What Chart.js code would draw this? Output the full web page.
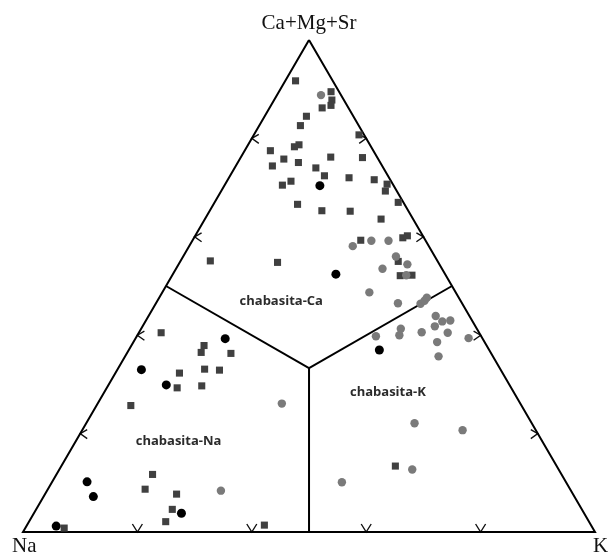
<!DOCTYPE html>
<html>
<head>
<meta charset="utf-8">
<script src="https://cdn.jsdelivr.net/npm/chart.js@4.4.1/dist/chart.umd.min.js"></script>
<style>
html,body{margin:0;padding:0;background:#ffffff;}
#wrap{width:608px;height:552px;position:relative;}
</style>
</head>
<body>
<div id="wrap"><canvas id="c" width="608" height="552"></canvas></div>
<script>
// Vertex labels: top, bottom-left, bottom-right
const vertexLabels = ['Ca+Mg+Sr', 'Na', 'K'];
// Field names and their label positions as [Ca, Na, K] %
const fieldNames = ['chabasita-Ca', 'chabasita-Na', 'chabasita-K'];
const fieldLabelPos = [[46.9, 31.4, 21.7], [18.4, 63.6, 18.0], [28.4, 22.0, 49.6]];
// Arrow ticks along each edge (%)
const tickFractions = [20, 40, 60, 80];
// Field boundaries [Ca, Na, K] %
const boundaryCenter = [33.33, 33.33, 33.34];
const boundaryEnds = [[50, 50, 0], [50, 0, 50], [0, 50, 50]];

// Series: [Ca+Mg+Sr, Na, K] %
const squares = [
  [91.7, 6.5, 1.8], [89.4, 1.4, 9.1], [87.8, 2.1, 10.1], [86.8, 2.8, 10.5], [86.2, 4.6, 9.2],
  [84.5, 8.2, 7.3], [82.6, 10.2, 7.2], [80.8, 0.9, 18.4], [78.7, 12.4, 8.9], [78.3, 13.4, 8.3],
  [77.5, 18.0, 4.5], [75.8, 16.5, 7.7], [76.2, 8.1, 15.7], [76.1, 2.6, 21.3], [74.4, 19.2, 6.4],
  [75.1, 14.3, 10.6], [74.0, 11.8, 14.2], [72.4, 11.1, 16.5], [72.0, 7.0, 21.0], [71.6, 2.8, 25.6],
  [70.7, 1.0, 28.3], [69.3, 2.0, 28.7], [71.3, 17.5, 11.2], [70.5, 19.4, 10.1], [66.6, 18.7, 14.7],
  [65.3, 15.1, 19.6], [65.2, 10.2, 24.6], [67.0, 0.9, 32.1], [63.6, 5.6, 30.8], [59.3, 11.3, 29.4],
  [59.8, 3.7, 36.5], [60.2, 2.7, 37.1], [55.1, 39.7, 5.2], [54.8, 28.1, 17.1], [55.0, 6.9, 38.1],
  [52.1, 8.0, 39.9], [52.2, 5.9, 41.9],
  [40.5, 55.6, 3.9], [37.9, 49.4, 12.7], [36.5, 50.6, 12.9], [36.3, 45.5, 18.2], [32.3, 56.5, 11.2],
  [33.1, 51.7, 15.2], [32.9, 49.2, 17.9], [29.3, 58.4, 12.3], [29.7, 53.9, 16.4], [25.7, 68.3, 6.0],
  [11.7, 71.5, 16.8], [8.7, 74.3, 17.0], [7.7, 69.3, 23.0], [4.6, 71.6, 23.8], [2.1, 74.0, 23.9],
  [0.8, 92.4, 6.8], [1.4, 57.1, 41.5],
  [13.4, 28.2, 58.4]
];
const grayCircles = [
  [88.8, 3.5, 7.7], [58.1, 13.3, 28.6], [59.2, 9.5, 31.3], [59.2, 6.5, 34.3], [56.0, 6.8, 37.2],
  [54.4, 5.6, 40.0], [53.5, 10.4, 36.1], [52.2, 6.9, 40.9], [48.7, 15.1, 36.2], [46.5, 11.2, 42.3],
  [46.4, 7.3, 46.3], [47.0, 6.3, 46.7], [47.6, 5.6, 46.8],
  [43.9, 5.9, 50.2], [42.8, 5.3, 51.9], [43.0, 3.8, 53.2], [41.8, 7.1, 51.1], [40.5, 5.5, 54.0],
  [40.6, 10.0, 49.4], [41.3, 13.3, 45.4], [40.0, 14.2, 45.8], [39.8, 18.4, 41.8], [38.6, 8.3, 53.1],
  [39.4, 2.4, 58.2], [35.7, 9.5, 54.8], [22.1, 20.5, 57.4], [20.7, 12.8, 66.5], [12.7, 25.6, 61.7],
  [10.1, 39.2, 50.7],
  [26.1, 41.7, 32.2], [8.4, 61.2, 30.4]
];
const blackCircles = [
  [70.4, 12.9, 16.7], [52.4, 19.1, 28.5], [39.3, 45.0, 15.7], [33.0, 62.8, 4.2], [29.9, 60.0, 10.1],
  [10.2, 83.7, 6.1], [7.2, 84.1, 8.7], [3.8, 70.4, 25.8], [1.2, 93.6, 5.2], [37.0, 19.2, 43.8]
];

const H = Math.sqrt(3) / 2;
function toXY(t) {
  const s = t[0] + t[1] + t[2];
  const ca = t[0] / s, k = t[2] / s;
  return { x: k + ca / 2, y: ca * H };
}

const outline = [[100, 0, 0], [0, 100, 0], [0, 0, 100], [100, 0, 0]].map(toXY);
const boundaryDatasets = boundaryEnds.map(e => ({
  type: 'scatter', showLine: true, data: [toXY(e), toXY(boundaryCenter)],
  borderColor: '#000', borderWidth: 2, pointRadius: 0, order: 10, clip: false
}));

const overlay = {
  id: 'overlay',
  beforeDatasetsDraw(chart) {
    const { ctx, scales: { x, y } } = chart;
    const P = t => { const p = toXY(t); return [x.getPixelForValue(p.x), y.getPixelForValue(p.y)]; };
    const chev = (px, py, arms) => {
      ctx.beginPath();
      ctx.moveTo(px + arms[0][0], py + arms[0][1]);
      ctx.lineTo(px, py);
      ctx.lineTo(px + arms[1][0], py + arms[1][1]);
      ctx.stroke();
    };
    ctx.save();
    ctx.strokeStyle = '#111';
    ctx.lineWidth = 1.4;
    tickFractions.forEach(f => {
      let [px, py] = P([f, 100 - f, 0]);
      chev(px, py, [[7, -4], [7, 5]]);
      [px, py] = P([f, 0, 100 - f]);
      chev(px, py, [[-7, -4], [-7, 5]]);
      [px, py] = P([0, 100 - f, f]);
      chev(px, py, [[-5, -8], [5, -8]]);
    });
    ctx.restore();
  },
  afterDraw(chart) {
    const { ctx, scales: { x, y } } = chart;
    const P = t => { const p = toXY(t); return [x.getPixelForValue(p.x), y.getPixelForValue(p.y)]; };
    ctx.save();
    ctx.fillStyle = '#111';
    ctx.font = '21px "Liberation Serif", "Times New Roman", serif';
    ctx.textBaseline = 'alphabetic';
    const top = P([100, 0, 0]), left = P([0, 100, 0]), right = P([0, 0, 100]);
    ctx.textAlign = 'center';
    ctx.fillText(vertexLabels[0], top[0], 29);
    ctx.textAlign = 'left';
    ctx.fillText(vertexLabels[1], left[0] - 11, left[1] + 20);
    ctx.fillText(vertexLabels[2], right[0] - 2, right[1] + 20);
    ctx.font = 'bold 13px "Open Sans", sans-serif';
    ctx.fillStyle = '#2b2b2b';
    ctx.textAlign = 'center';
    ctx.textBaseline = 'middle';
    fieldNames.forEach((n, i) => {
      const [px, py] = P(fieldLabelPos[i]);
      ctx.fillText(n, px, py);
    });
    ctx.restore();
  }
};

new Chart(document.getElementById('c'), {
  type: 'scatter',
  data: {
    datasets: [
      { label: 'black', data: blackCircles.map(toXY), pointStyle: 'circle', pointRadius: 4.5,
        backgroundColor: '#000', borderColor: '#000', borderWidth: 0, order: 0, clip: false },
      { label: 'gray', data: grayCircles.map(toXY), pointStyle: 'circle', pointRadius: 4.2,
        backgroundColor: '#7a7a7a', borderColor: '#7a7a7a', borderWidth: 0, order: 1, clip: false },
      { label: 'squares', data: squares.map(toXY), pointStyle: 'rect', pointRadius: 5,
        backgroundColor: '#404040', borderColor: '#404040', borderWidth: 0, order: 2, clip: false },
      { label: 'outline', type: 'scatter', showLine: true, data: outline, borderColor: '#000',
        borderWidth: 2, pointRadius: 0, order: 10, clip: false, borderJoinStyle: 'miter' },
      ...boundaryDatasets
    ]
  },
  options: {
    responsive: false,
    maintainAspectRatio: false,
    animation: false,
    layout: { padding: { left: 23, right: 13, top: 40, bottom: 20 } },
    scales: {
      x: { type: 'linear', min: 0, max: 1, display: false },
      y: { type: 'linear', min: 0, max: H, display: false }
    },
    plugins: { legend: { display: false }, tooltip: { enabled: false } },
    elements: { point: { hoverRadius: 4 } }
  },
  plugins: [overlay]
});
</script>
</body>
</html>
